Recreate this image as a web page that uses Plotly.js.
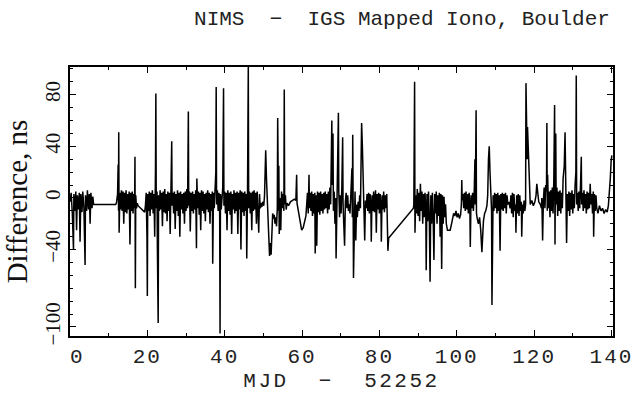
<!DOCTYPE html>
<html>
<head>
<meta charset="utf-8">
<script src="https://cdn.plot.ly/plotly-3.0.1.min.js"></script>
<style>
html,body{margin:0;padding:0;background:#fff;}
#chart{width:637px;height:393px;}
.xtitle{letter-spacing:2.5px;}
.xtick text{letter-spacing:2px;}
</style>
</head>
<body>
<div id="chart"></div>
<script>
// MJD - 52252 (days)
const mjd = [
 0.0,0.3,0.6,0.9,1.0,1.3,1.5,1.7,1.9,2.2,2.4,2.6,2.8,3.1,3.3,3.6,3.9,4.0,4.3,4.5,4.8,5.0,5.2,5.4,5.7,5.9,6.1,
 6.2,11.8,
 12.0,12.3,12.45,12.55,12.6,12.7,12.9,13.1,13.3,13.5,13.7,13.9,14.1,14.3,14.5,14.7,14.9,15.1,15.3,15.5,15.7,15.9,16.1,16.3,16.5,16.7,16.8,16.9,17.0,17.2,17.4,
 17.6,19.3,
 19.5,19.7,19.9,20.0,20.1,20.3,20.5,20.7,20.9,21.1,21.3,21.5,21.7,21.9,22.1,22.2,22.3,22.5,22.6,22.8,22.9,23.1,23.3,23.5,23.7,23.9,
 24.1,24.3,24.5,24.7,24.9,25.1,25.3,25.5,25.7,25.9,26.1,26.3,26.4,26.6,26.8,27.0,27.2,27.4,27.6,27.8,28.0,28.2,28.4,28.6,28.8,
 29.0,29.2,29.4,29.6,29.8,30.0,30.2,30.4,30.6,30.7,30.9,31.1,31.3,31.5,31.7,31.9,32.1,32.3,32.5,32.7,32.8,33.0,33.2,33.4,33.6,33.8,
 34.0,34.2,34.4,34.6,34.8,35.0,35.2,35.4,35.6,35.8,36.0,36.2,36.4,36.6,36.8,36.9,37.1,37.3,37.5,37.7,37.8,37.9,38.1,38.3,38.5,38.7,38.8,38.9,
 39.1,39.3,39.5,39.7,39.8,40.0,40.2,40.4,40.6,40.8,41.0,41.2,41.4,41.6,41.8,42.0,42.2,42.4,42.6,42.8,43.0,43.2,43.4,43.6,43.8,
 44.0,44.2,44.4,44.6,44.8,45.0,45.2,45.4,45.6,45.7,45.9,46.1,46.2,46.4,46.6,46.8,47.0,47.2,47.4,47.6,47.8,48.0,48.2,48.4,48.6,48.8,
 49.0,49.2,49.4,49.6,49.8,
 50.1,50.3,50.5,50.6,50.8,51.0,51.2,51.4,51.6,51.8,52.0,52.2,52.4,52.6,52.8,53.0,53.2,53.4,53.6,53.7,53.8,53.9,54.0,54.1,54.3,54.5,54.7,54.9,
 55.1,55.3,55.4,55.5,55.7,55.9,56.1,56.5,57.0,57.5,58.0,58.4,58.6,58.7,59.0,59.4,59.9,60.3,60.7,61.0,
 61.2,61.4,61.6,61.8,61.9,62.1,62.3,62.5,62.7,62.9,63.1,63.3,63.4,63.6,63.8,64.0,64.2,64.4,64.6,64.8,65.0,65.2,65.4,65.6,65.8,
 66.0,66.2,66.4,66.6,66.8,67.0,67.2,67.4,67.6,67.7,67.8,68.0,68.1,68.3,68.5,68.7,68.8,69.0,69.2,69.4,69.5,69.7,69.9,
 70.1,70.3,70.5,70.6,70.8,71.0,71.2,71.4,71.6,71.8,72.0,72.2,72.4,72.6,72.8,72.9,73.0,73.1,73.2,73.3,73.5,73.7,73.9,
 74.1,74.3,74.5,74.7,74.9,75.1,75.3,75.4,75.6,75.8,76.0,76.2,76.4,76.6,76.8,77.0,77.2,77.4,77.6,77.8,77.9,
 78.1,78.3,78.5,78.7,78.9,79.0,79.2,79.4,79.6,79.8,80.0,80.2,80.4,80.5,80.7,80.9,81.1,81.3,81.5,81.7,81.9,82.0,82.2,82.4,
 88.8,
 88.9,89.1,89.2,89.4,89.6,89.8,90.0,90.2,90.4,90.6,90.8,91.0,91.2,91.4,91.6,91.8,92.0,92.1,92.3,92.5,92.7,92.9,93.1,93.3,93.5,93.7,93.9,
 94.1,94.3,94.5,94.7,94.9,95.1,95.3,95.5,95.7,95.9,96.1,96.3,96.5,96.7,96.9,97.1,97.3,
 97.6,98.3,98.8,99.2,99.5,99.8,100.1,100.4,100.7,101.0,101.2,101.3,101.4,101.6,101.8,102.0,102.2,102.4,102.6,102.8,103.0,103.2,103.4,103.5,103.7,103.9,
 104.1,104.3,104.5,104.7,104.8,105.0,105.1,105.3,105.6,105.9,106.2,106.5,106.7,106.9,107.2,107.5,107.8,108.0,108.2,108.4,108.6,108.8,109.0,109.1,109.2,109.4,109.6,109.8,
 110.0,110.2,110.4,110.6,110.8,111.0,111.2,111.4,111.6,111.8,112.0,112.2,112.4,112.6,112.8,113.0,113.2,113.5,113.8,114.0,114.2,114.4,114.6,114.8,
 115.0,115.2,115.3,115.5,115.7,115.9,116.1,116.3,116.5,116.7,116.8,117.0,117.2,117.4,117.6,117.8,117.9,118.0,118.1,118.2,118.3,118.5,118.6,118.8,
 119.0,119.4,119.8,120.2,120.5,120.7,120.9,121.2,121.6,121.9,122.0,122.2,122.4,122.6,122.8,123.0,123.2,123.3,123.4,123.5,123.7,123.9,
 124.1,124.3,124.5,124.7,124.9,125.1,125.3,125.4,125.5,125.6,125.7,125.9,126.1,126.3,126.5,126.7,126.9,127.1,127.3,127.5,127.8,128.0,128.2,128.4,128.6,128.8,
 129.0,129.2,129.4,129.6,129.8,130.0,130.2,130.4,130.6,130.8,130.9,131.0,131.2,131.4,131.6,131.8,132.0,132.2,132.3,132.5,132.7,132.9,133.1,133.3,133.5,133.7,133.9,
 134.1,134.3,134.5,134.7,134.9,135.1,135.3,135.4,135.6,135.8,136.0,136.2,136.5,136.9,137.3,137.7,138.1,138.5,138.9,139.2,139.5,139.7,139.9,140.1
];
// NIMS - IGS difference (ns)
const diff = [
 -3,4,-12,-40,3,-10,5,-25,2,-9,4,-34,3,-11,5,-8,-52,2,-10,6,-9,3,-20,4,-8,1,-5,
 -5,-5,
 -4,3,26,-10,51,-27,4,-9,6,-10,5,-20,4,-11,6,-12,3,-9,5,-36,4,-10,5,-12,3,-8,32,-70,2,-8,-4,
 -6,-11,
 -6,4,-30,-76,3,-10,5,-14,4,-9,6,-12,3,-30,20,81,-8,5,-40,-97,2,-10,6,-9,4,-22,
 5,-11,7,-12,3,-18,5,-10,4,-28,6,44,-6,4,-12,5,-24,3,-10,6,-14,4,-30,5,-9,
 3,-12,4,-20,5,-10,7,-8,67,-6,5,-26,4,-10,5,-12,3,-9,6,-39,15,-8,5,-13,4,-25,
 6,-10,5,-12,3,-18,4,-9,6,-11,4,-20,3,-10,5,-51,4,-8,8,20,86,-5,6,-10,4,-12,-105,3,
 -9,5,8,85,-6,5,-12,4,-25,6,-10,4,-13,5,-28,3,-9,6,-12,4,-10,5,-28,4,-9,
 6,-40,5,-11,4,-14,5,-10,3,-47,4,102,-8,5,-12,4,-25,5,-10,6,-9,4,-20,5,-11,-27,
 3,-8,-4,-7,-3,
 -6,2,20,37,15,-5,-12,-30,-45,-35,-44,-28,-12,-16,-13,-20,-15,-22,-8,62,20,-10,25,-28,0,-25,5,-8,
 3,-10,84,-5,2,-9,-4,-6,-3,-2,-1,-2,18,-4,-10,-18,-25,-23,-18,-14,
 -5,4,-12,18,-8,4,-10,5,-14,3,-12,4,-43,2,-37,5,-11,4,-13,5,-10,3,-12,4,-9,
 5,-8,3,-12,5,-9,8,-5,30,60,10,50,-10,5,-20,0,-47,-5,20,66,5,-15,2,
 -12,10,47,-5,-20,-37,-3,4,-8,2,-10,-5,-12,3,10,23,-15,49,0,-62,-10,5,-33,
 -5,-15,-3,-10,2,-8,20,58,40,10,-10,-33,-2,-8,3,-10,4,-12,3,-8,-34,
 2,-10,5,-11,4,6,-27,3,-9,4,-12,3,-10,-34,2,-9,5,-11,2,-8,3,-10,-41,-31,
 -8,
 -5,90,-27,2,-12,7,-14,4,-18,11,-10,5,-20,3,-15,4,-12,-56,3,-18,5,-14,-65,2,-20,4,-15,
 -48,3,-12,5,-20,2,-14,4,-30,3,-55,2,-20,1,-15,-5,-20,
 -25,-25,-18,-12,-14,-10,-15,-12,-16,-13,-5,14,-2,3,-8,4,-10,5,-9,3,-12,4,-10,-38,2,-8,
 4,-10,2,30,-5,68,-12,-16,-20,-15,-25,-42,-30,-18,-12,-10,-6,2,30,40,20,-3,-10,-83,-12,2,-10,4,
 -8,3,-12,4,-10,2,-41,3,-9,4,-10,3,-8,4,-12,2,-5,-3,-8,2,-12,4,-15,3,
 -10,-5,-27,2,-12,3,-14,2,-10,-3,-30,-5,-12,-2,-10,-5,89,40,75,30,55,38,30,10,
 -5,-2,-6,-3,2,11,3,-3,-5,-8,0,-33,-2,8,-8,10,5,58,-10,18,-8,5,
 -15,6,-10,8,-12,15,72,-36,10,50,-5,8,-14,5,-10,6,-12,4,-8,15,25,51,-5,-35,3,-10,
 5,-14,4,-9,6,-12,3,-8,10,20,95,-5,4,-10,5,-8,10,32,-5,4,-10,6,-8,3,-12,5,-9,
 4,-8,11,-5,3,-12,5,-30,3,-10,2,-8,-12,-6,-10,-8,-12,-9,-11,-6,5,15,28,33
];
const xTickVals = [0, 20, 40, 60, 80, 100, 120, 140];
const xTickText = ['\u00a00', '20', '40', '60', '80', '100', '120', '140'];
const yTickVals = [-100, -40, 0, 40, 80];
const yTickText = ['\u2212100', '\u221240', '0', '40', '80'];

const trace = {
  x: mjd, y: diff, type: 'scatter', mode: 'lines',
  line: {color: '#000', width: 1.5},
  hoverinfo: 'skip'
};
const axisCommon = {
  showgrid: false, zeroline: false, showline: true, mirror: 'ticks',
  linecolor: '#000', linewidth: 2, ticks: 'inside', ticklen: 6, tickcolor: '#000', tickwidth: 1
};
const layout = {
  width: 637, height: 393,
  margin: {l: 70, r: 24, t: 67, b: 57, pad: 0},
  paper_bgcolor: '#fff', plot_bgcolor: '#fff',
  showlegend: false,
  title: {
    text: 'NIMS  \u2212  IGS Mapped Iono, Boulder',
    font: {family: 'Liberation Mono, monospace', size: 21, color: '#222'},
    xref: 'container', x: 402/637, xanchor: 'center',
    yref: 'container', y: 1 - 18/393, yanchor: 'middle'
  },
  xaxis: Object.assign({}, axisCommon, {
    range: [0, 140.4],
    tickmode: 'array', tickvals: xTickVals, ticktext: xTickText,
    minor: {dtick: 10, ticks: 'inside', ticklen: 3, tickcolor: '#000'},
    tickfont: {family: 'Liberation Mono, monospace', size: 21, color: '#222'},
    title: {text: 'MJD  \u2212  52252', font: {family: 'Liberation Mono, monospace', size: 21, color: '#222'}, standoff: 6}
  }),
  yaxis: Object.assign({}, axisCommon, {
    range: [-107, 101.5],
    tickmode: 'array', tickvals: yTickVals, ticktext: yTickText,
    tickangle: -90,
    minor: {dtick: 10, ticks: 'inside', ticklen: 3, tickcolor: '#000'},
    tickfont: {family: 'Liberation Serif, serif', size: 21, color: '#111'},
    title: {text: 'Difference, ns', font: {family: 'Liberation Serif, serif', size: 29, color: '#111'}, standoff: 4}
  })
};
Plotly.newPlot('chart', [trace], layout, {staticPlot: true, displayModeBar: false});
</script>
</body>
</html>
